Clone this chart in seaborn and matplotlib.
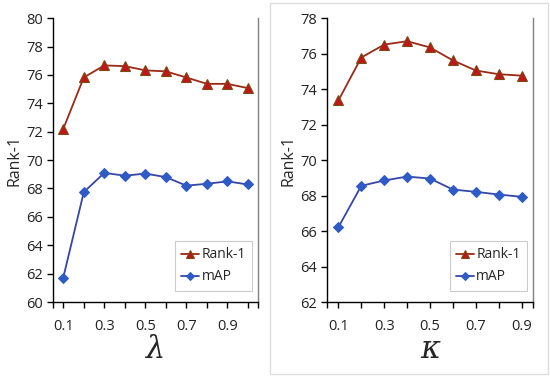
import matplotlib
matplotlib.use("Agg")
import matplotlib.pyplot as plt
from matplotlib.patches import Rectangle
import pandas as pd
import seaborn as sns

# lambda sweep (left panel)
lam = ["0.1", "0.2", "0.3", "0.4", "0.5", "0.6", "0.7", "0.8", "0.9", "1.0"]
lam_rank1 = [72.2, 75.82, 76.67, 76.62, 76.32, 76.25, 75.82, 75.37, 75.37, 75.07]
lam_map = [61.72, 67.74, 69.1, 68.9, 69.05, 68.8, 68.2, 68.33, 68.5, 68.28]

# kappa sweep (right panel)
kap = ["0.1", "0.2", "0.3", "0.4", "0.5", "0.6", "0.7", "0.8", "0.9"]
kap_rank1 = [73.36, 75.78, 76.51, 76.70, 76.35, 75.62, 75.05, 74.84, 74.76]
kap_map = [66.22, 68.55, 68.85, 69.07, 68.96, 68.34, 68.21, 68.06, 67.93]

sns.set_style("white")
plt.rcParams["font.family"] = ["Open Sans", "DejaVu Sans"]

RED_LINE = "#9A2A18"
RED_MK = "#C0161A"
RED_EDGE = "#7A4A10"
BLUE_LINE = "#3545A8"
BLUE_MK = "#2F5BC6"

fig = plt.figure(figsize=(5.5, 3.78), dpi=100)
fig.patches.append(Rectangle((0.491, 0.011), 0.505, 0.981, transform=fig.transFigure,
                             fill=False, edgecolor="#DDDDDD", linewidth=1.0))

panels = [
    (lam, lam_rank1, lam_map, (60, 80), "\u03bb", [0.0964, 0.201, 0.373, 0.751]),
    (kap, kap_rank1, kap_map, (62, 78), "\u03ba", [0.5945, 0.201, 0.3745, 0.751]),
]

for cats, r1, mp, ylim, xl, pos in panels:
    ax = fig.add_axes(pos)
    df = pd.DataFrame({"idx": range(len(cats)), "Rank-1": r1, "mAP": mp})
    sns.lineplot(data=df, x="idx", y="Rank-1", ax=ax, color=RED_LINE, lw=1.3,
                 marker="^", markersize=7, markerfacecolor=RED_MK,
                 markeredgecolor=RED_EDGE, markeredgewidth=0.8, label="Rank-1")
    sns.lineplot(data=df, x="idx", y="mAP", ax=ax, color=BLUE_LINE, lw=1.3,
                 marker="D", markersize=5, markerfacecolor=BLUE_MK,
                 markeredgecolor=BLUE_MK, label="mAP")
    n = len(cats)
    ax.set_xlim(-0.5, n - 0.5)
    ax.set_ylim(*ylim)
    ax.set_yticks(range(ylim[0], ylim[1] + 1, 2))
    ax.set_xticks(range(n))
    ax.set_xticklabels([c if i % 2 == 0 else "" for i, c in enumerate(cats)])
    ax.set_xticks([-0.5, n - 0.5], minor=True)
    ax.tick_params(axis="both", which="both", direction="out", length=4, width=1,
                   color="black", labelsize=10.5, pad=3, bottom=True, left=True,
                   labelcolor="#222222")
    ax.tick_params(axis="x", pad=8)
    ax.set_ylabel("Rank-1", fontsize=11.5, labelpad=3)
    ax.set_xlabel(xl, fontsize=22, family="DejaVu Serif", style="italic", labelpad=0)
    ax.spines["top"].set_visible(False)
    ax.spines["left"].set_color("black")
    ax.spines["bottom"].set_color("black")
    ax.spines["right"].set_color("#808080")
    for s in ["left", "bottom", "right"]:
        ax.spines[s].set_linewidth(1.0)
    leg = ax.legend(loc="lower right", bbox_to_anchor=(0.97, 0.04), fontsize=10,
                    frameon=True, fancybox=False, handlelength=1.3, handletextpad=0.15,
                    borderpad=0.45, labelspacing=0.5, borderaxespad=0.0, markerscale=0.85)
    leg.get_frame().set_edgecolor("#BFBFBF")
    leg.get_frame().set_linewidth(0.8)

fig.savefig("out.png", dpi=100)
